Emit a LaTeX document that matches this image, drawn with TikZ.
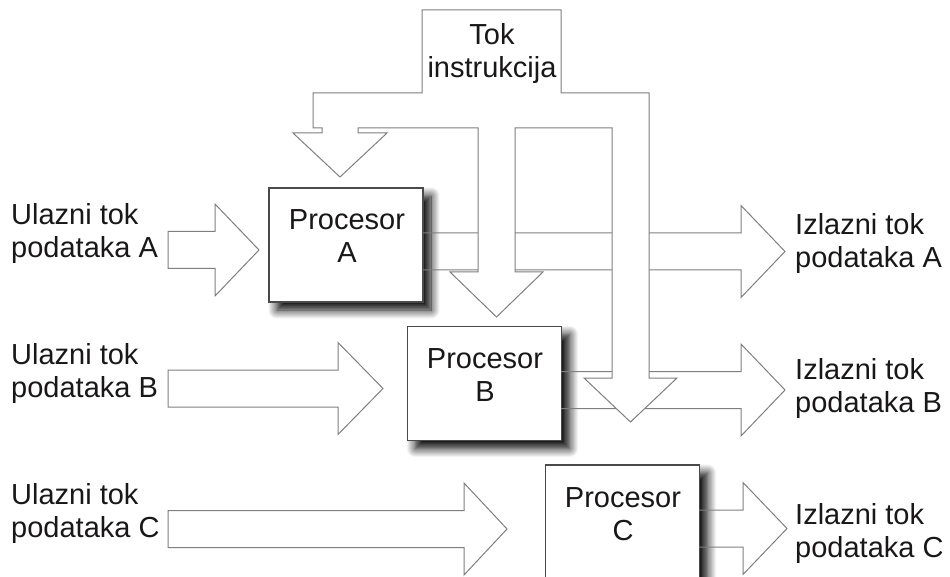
\documentclass[tikz,border=0pt]{standalone}
\usepackage{fontspec}
\setmainfont{Liberation Sans}
\usetikzlibrary{shadows.blur}

\definecolor{ink}{HTML}{1A1718}
\definecolor{edge}{HTML}{7F7F7F}
\definecolor{frame}{HTML}{4A4A4A}

\tikzset{
  flow/.style={draw=edge, line width=1pt, line join=miter},
  proc/.style={draw=frame, line width=1.1pt, fill=white,
    minimum width=154pt, minimum height=114pt, inner sep=0pt,
    blur shadow={shadow xshift=8pt, shadow yshift=-8pt,
      shadow blur radius=9pt, shadow blur steps=12, shadow opacity=100}},
  txt/.style={font=\fontsize{29}{33}\selectfont, text=ink, inner sep=0pt},
}

% closed block arrow: tail x, head base x, tip x, centre line y
\newcommand\blockarrow[4]{%
  \draw[flow] (#1,#4-18.5) -- (#2,#4-18.5) -- (#2,#4-46) -- (#3,#4)
    -- (#2,#4+46) -- (#2,#4+18.5) -- (#1,#4+18.5) -- cycle;}
% block arrow leaving a processor: open on the processor side
\newcommand\outarrow[4]{%
  \draw[flow] (#1,#4-18.5) -- (#2,#4-18.5) -- (#2,#4-46) -- (#3,#4)
    -- (#2,#4+46) -- (#2,#4+18.5) -- (#1,#4+18.5);}

\begin{document}
\begin{tikzpicture}[x=1pt,y=-1pt]
  \useasboundingbox (0,0) rectangle (950,577);
  \clip (0,0) rectangle (950,577);

  % processors
  \node[proc] (pa) at (346,245) {};
  \node[proc] (pb) at (484.5,383.5) {};
  \node[proc] (pc) at (622.5,522) {};

  % input data streams
  \blockarrow{168}{215}{259}{250}
  \blockarrow{168}{338}{383}{388.5}
  \blockarrow{168}{464}{507}{529}

  % output data streams
  \outarrow{423}{741}{785}{251.5}
  \outarrow{561}{741}{785}{390}
  \outarrow{699}{743}{787}{528.5}

  % instruction stream feeding all three processors
  \draw[flow, fill=white] (422,10) -- (561,10) -- (561,93) -- (649,93) -- (649,378)
    -- (677,378) -- (630.5,422) -- (584,378) -- (612,378) -- (612,128)
    -- (515,128) -- (515,272) -- (543,272) -- (496.5,317) -- (450,272)
    -- (478,272) -- (478,128) -- (358,128) -- (358,133) -- (387,133)
    -- (340,177) -- (293,133) -- (322,133) -- (322,128) -- (313,128)
    -- (313,93) -- (422,93) -- cycle;
  \node[txt, align=center, anchor=north] (ti) at (492,23) {Tok\\instrukcija};

  % processor labels
  \node[txt, align=center, anchor=north] (ta) at (347,209) {Procesor\\A};
  \node[txt, align=center, anchor=north] (tb) at (485,348) {Procesor\\B};
  \node[txt, align=center, anchor=north] (tc) at (623,487) {Procesor\\C};

  % stream labels
  \node[txt, align=left, anchor=north west] (ia) at (11,203) {Ulazni tok\\podataka A};
  \node[txt, align=left, anchor=north west] (ib) at (11,343) {Ulazni tok\\podataka B};
  \node[txt, align=left, anchor=north west] (ic) at (11,483) {Ulazni tok\\podataka C};
  \node[txt, align=left, anchor=north west] (oa) at (795,213) {Izlazni tok\\podataka A};
  \node[txt, align=left, anchor=north west] (ob) at (795,358) {Izlazni tok\\podataka B};
  \node[txt, align=left, anchor=north west] (oc) at (795,503) {Izlazni tok\\podataka C};
\end{tikzpicture}
\end{document}
